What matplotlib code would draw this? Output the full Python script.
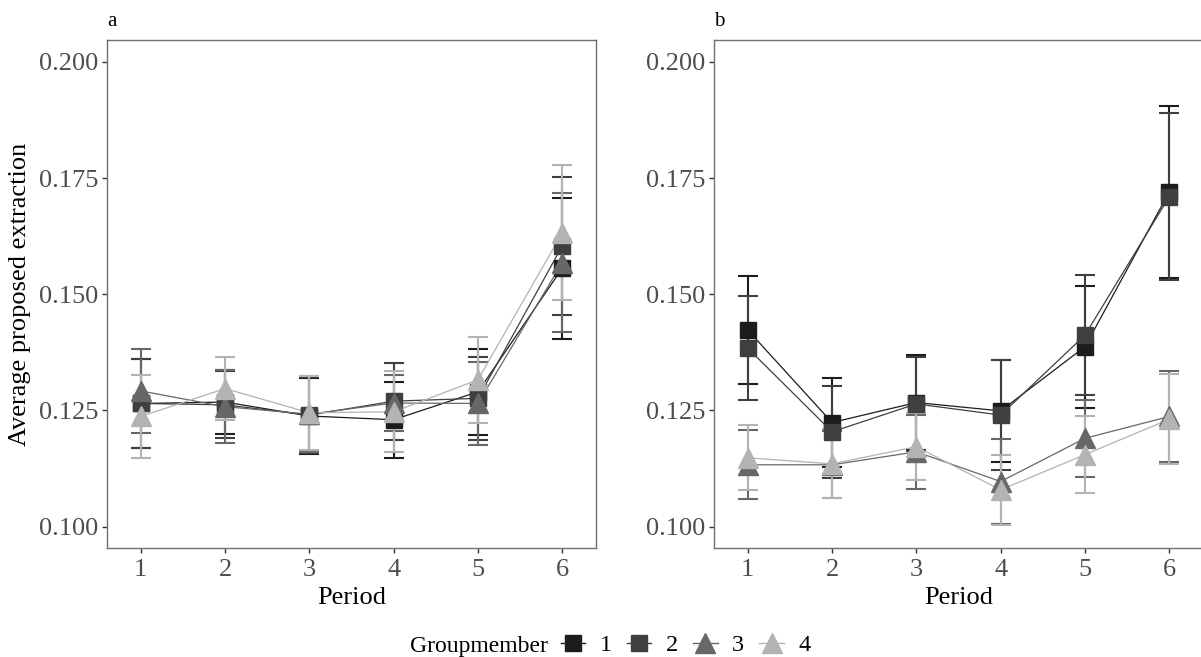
import matplotlib
matplotlib.use('Agg')
import matplotlib.pyplot as plt
from matplotlib.lines import Line2D

plt.rcParams['font.family'] = ['Liberation Serif', 'DejaVu Serif']

periods = [1, 2, 3, 4, 5, 6]
members = ['1', '2', '3', '4']
colors = ['#1c1c1c', '#3f3f3f', '#676767', '#b3b3b3']
markers = ['s', 's', '^', '^']
msizes = [11.5, 11.5, 14.5, 14.5]

# panel a: mean and half-width of error bar per groupmember
a_g1 = [0.1265, 0.1268, 0.1238, 0.1230, 0.1290, 0.1556]
a_g2 = [0.1265, 0.1262, 0.1240, 0.1270, 0.1276, 0.1604]
a_g3 = [0.1292, 0.1258, 0.1242, 0.1266, 0.1265, 0.1568]
a_g4 = [0.1237, 0.1297, 0.1245, 0.1247, 0.1316, 0.1632]
a_e1 = [0.0095, 0.0068, 0.0082, 0.0082, 0.0092, 0.0152]
a_e2 = [0.0095, 0.0072, 0.0082, 0.0083, 0.0090, 0.0148]
a_e3 = [0.0090, 0.0078, 0.0082, 0.0060, 0.0090, 0.0150]
a_e4 = [0.0090, 0.0068, 0.0080, 0.0087, 0.0092, 0.0145]

# panel b
b_g1 = [0.1423, 0.1224, 0.1267, 0.1249, 0.1387, 0.1720]
b_g2 = [0.1384, 0.1204, 0.1264, 0.1240, 0.1412, 0.1710]
b_g3 = [0.1133, 0.1133, 0.1161, 0.1097, 0.1190, 0.1237]
b_g4 = [0.1148, 0.1135, 0.1172, 0.1079, 0.1155, 0.1231]
b_e1 = [0.0116, 0.0095, 0.0102, 0.0110, 0.0131, 0.0184]
b_e2 = [0.0112, 0.0099, 0.0102, 0.0118, 0.0129, 0.0180]
b_e3 = [0.0074, 0.0072, 0.0080, 0.0092, 0.0083, 0.0097]
b_e4 = [0.0070, 0.0074, 0.0072, 0.0075, 0.0082, 0.0097]

yticks = [0.100, 0.125, 0.150, 0.175, 0.200]

W, H = 1201, 657
fig = plt.figure(figsize=(W / 100, H / 100), dpi=100)
ax_a = fig.add_axes([107 / W, 1 - 548 / H, 489 / W, 508 / H])
ax_b = fig.add_axes([714 / W, 1 - 548 / H, 489 / W, 508 / H])


def draw_panel(ax, means, errs, tag):
    for i, (m, e) in enumerate(zip(means, errs)):
        ax.errorbar(periods, m, yerr=e, fmt='none', ecolor=colors[i],
                    elinewidth=1.5, capsize=7, capthick=1.5, zorder=2 + i * 0.01)
        ax.plot(periods, m, color=colors[i], lw=0.9, zorder=3 + i * 0.01)
        ax.plot(periods, m, linestyle='none', marker=markers[i], ms=msizes[i],
                color=colors[i], mec=colors[i], zorder=4 + i * 0.01)
    ax.set_xlim(0.6, 6.4)
    ax.set_ylim(0.0954, 0.2047)
    ax.set_xticks(periods)
    ax.set_yticks(yticks)
    ax.set_yticklabels(['%.3f' % v for v in yticks])
    ax.tick_params(length=3.6, width=1.0, color='#333333', labelsize=19,
                   labelcolor='#4d4d4d', pad=2.5)
    ax.tick_params(axis='x', pad=4.5)
    for s in ax.spines.values():
        s.set_color('#707070')
        s.set_linewidth(1.0)
    ax.set_xlabel('Period', fontsize=19)
    ax.xaxis.set_label_coords(0.5, -0.076)
    ax.set_title(tag, loc='left', fontsize=15, pad=10)


draw_panel(ax_a, [a_g1, a_g2, a_g3, a_g4], [a_e1, a_e2, a_e3, a_e4], 'a')
draw_panel(ax_b, [b_g1, b_g2, b_g3, b_g4], [b_e1, b_e2, b_e3, b_e4], 'b')

fig.text(20 / W, 1 - 294 / H, 'Average proposed extraction', rotation=90,
         ha='center', va='center', fontsize=19)

handles = [Line2D([], [], color=colors[i], marker=markers[i], ms=msizes[i], lw=1.0)
           for i in range(4)]
fig.text(410 / W, 1 - 652 / H, 'Groupmember', ha='left', va='baseline', fontsize=17)
fig.legend(handles, members, ncol=4, loc='center left',
           bbox_to_anchor=(561 / W, 1 - 645 / H), frameon=False, fontsize=17.5,
           handlelength=1.0, handletextpad=0.6, columnspacing=0.62,
           borderpad=0, borderaxespad=0)

fig.savefig('out.png', dpi=100)
